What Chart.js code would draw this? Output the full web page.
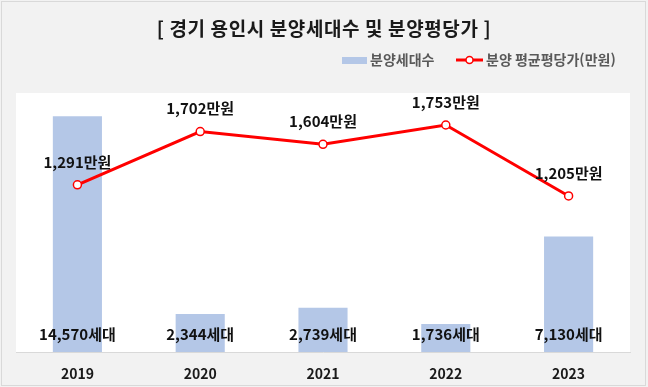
<!DOCTYPE html>
<html lang="ko">
<head>
<meta charset="utf-8">
<script src="https://cdn.jsdelivr.net/npm/chart.js@4/dist/chart.umd.min.js"></script>
<style>
  html, body { margin: 0; padding: 0; background: #f2f2f2; }
  #wrap { width: 648px; height: 387px; position: relative; }
</style>
</head>
<body>
<div id="wrap"><canvas id="chart"></canvas></div>
<script>
// 경기 용인시 분양 데이터
const years = ['2019', '2020', '2021', '2022', '2023'];
const units = [14570, 2344, 2739, 1736, 7130];      // 분양세대수
const prices = [1291, 1702, 1604, 1753, 1205];      // 분양 평균평당가(만원)

const titleText = '[ 경기 용인시 분양세대수 및 분양평당가 ]';
const barLabel = '분양세대수';
const lineLabel = '분양 평균평당가(만원)';

const FONT = '"Noto Sans CJK KR", "Noto Sans", sans-serif';
const BAR_COLOR = '#b4c7e7';
const LINE_COLOR = '#ff0000';

const fmt = n => n.toLocaleString('en-US');

// background, plot area, border, title and legend
const frame = {
    id: 'frame',
    beforeDraw(chart) {
        const { ctx, chartArea: a, width, height } = chart;
        ctx.save();
        ctx.fillStyle = '#f2f2f2';
        ctx.fillRect(0, 0, width, height);
        ctx.fillStyle = '#ffffff';
        ctx.fillRect(a.left, a.top, a.right - a.left, a.bottom - a.top);
        ctx.strokeStyle = '#d9d9d9';
        ctx.lineWidth = 1;
        ctx.strokeRect(1.5, 1.5, width - 4, height - 3);

        // title
        ctx.fillStyle = '#1a1a1a';
        ctx.font = `bold 19px ${FONT}`;
        ctx.letterSpacing = '0.6px';
        ctx.textAlign = 'center';
        ctx.textBaseline = 'middle';
        ctx.fillText(titleText, 324, 29);
        ctx.letterSpacing = '0px';

        // legend
        ctx.font = `bold 14px ${FONT}`;
        ctx.textAlign = 'left';
        ctx.fillStyle = BAR_COLOR;
        ctx.fillRect(342, 57, 25, 7);
        ctx.fillStyle = '#595959';
        ctx.fillText(barLabel, 370, 60);

        ctx.strokeStyle = LINE_COLOR;
        ctx.lineWidth = 3;
        ctx.beginPath();
        ctx.moveTo(456, 60);
        ctx.lineTo(483, 60);
        ctx.stroke();
        ctx.beginPath();
        ctx.arc(469.5, 60, 3.5, 0, Math.PI * 2);
        ctx.fillStyle = '#ffffff';
        ctx.fill();
        ctx.lineWidth = 1.5;
        ctx.stroke();
        ctx.fillStyle = '#595959';
        ctx.fillText(lineLabel, 486, 60);
        ctx.restore();
    }
};

// value labels
const valueLabels = {
    id: 'valueLabels',
    afterDatasetsDraw(chart) {
        const { ctx, chartArea: a } = chart;
        ctx.save();
        ctx.fillStyle = '#111111';
        ctx.textAlign = 'center';
        ctx.textBaseline = 'middle';

        ctx.font = `bold 15px ${FONT}`;
        chart.getDatasetMeta(0).data.forEach((bar, i) => {
            ctx.fillText(fmt(units[i]) + '세대', bar.x, a.bottom - 18);
        });

        chart.getDatasetMeta(1).data.forEach((pt, i) => {
            ctx.fillText(fmt(prices[i]) + '만원', pt.x, pt.y - 23);
        });
        ctx.restore();
    }
};

new Chart(document.getElementById('chart'), {
    data: {
        labels: years,
        datasets: [
            {
                type: 'bar',
                label: barLabel,
                data: units,
                backgroundColor: BAR_COLOR,
                yAxisID: 'y',
                barPercentage: 0.4,
                categoryPercentage: 1,
                order: 2
            },
            {
                type: 'line',
                label: lineLabel,
                data: prices,
                borderColor: LINE_COLOR,
                borderWidth: 3,
                pointRadius: 4,
                pointBorderWidth: 1.5,
                pointBackgroundColor: '#ffffff',
                pointBorderColor: LINE_COLOR,
                tension: 0,
                yAxisID: 'y1',
                order: 1
            }
        ]
    },
    options: {
        responsive: true,
        maintainAspectRatio: false,
        animation: false,
        layout: { padding: { left: 16, right: 18, top: 93, bottom: 0 } },
        plugins: {
            legend: { display: false },
            title: { display: false },
            tooltip: { enabled: false }
        },
        scales: {
            x: {
                grid: { display: false, drawTicks: false },
                border: { display: true, color: '#d9d9d9', width: 1 },
                ticks: {
                    color: '#1a1a1a',
                    font: { family: FONT, size: 14, weight: 'bold' },
                    padding: 13
                },
                afterFit(scale) { scale.height = 35; }
            },
            y: { display: false, min: 0, max: 16000 },
            y1: { display: false, min: 0, max: 2000 }
        }
    },
    plugins: [frame, valueLabels]
});
</script>
</body>
</html>
